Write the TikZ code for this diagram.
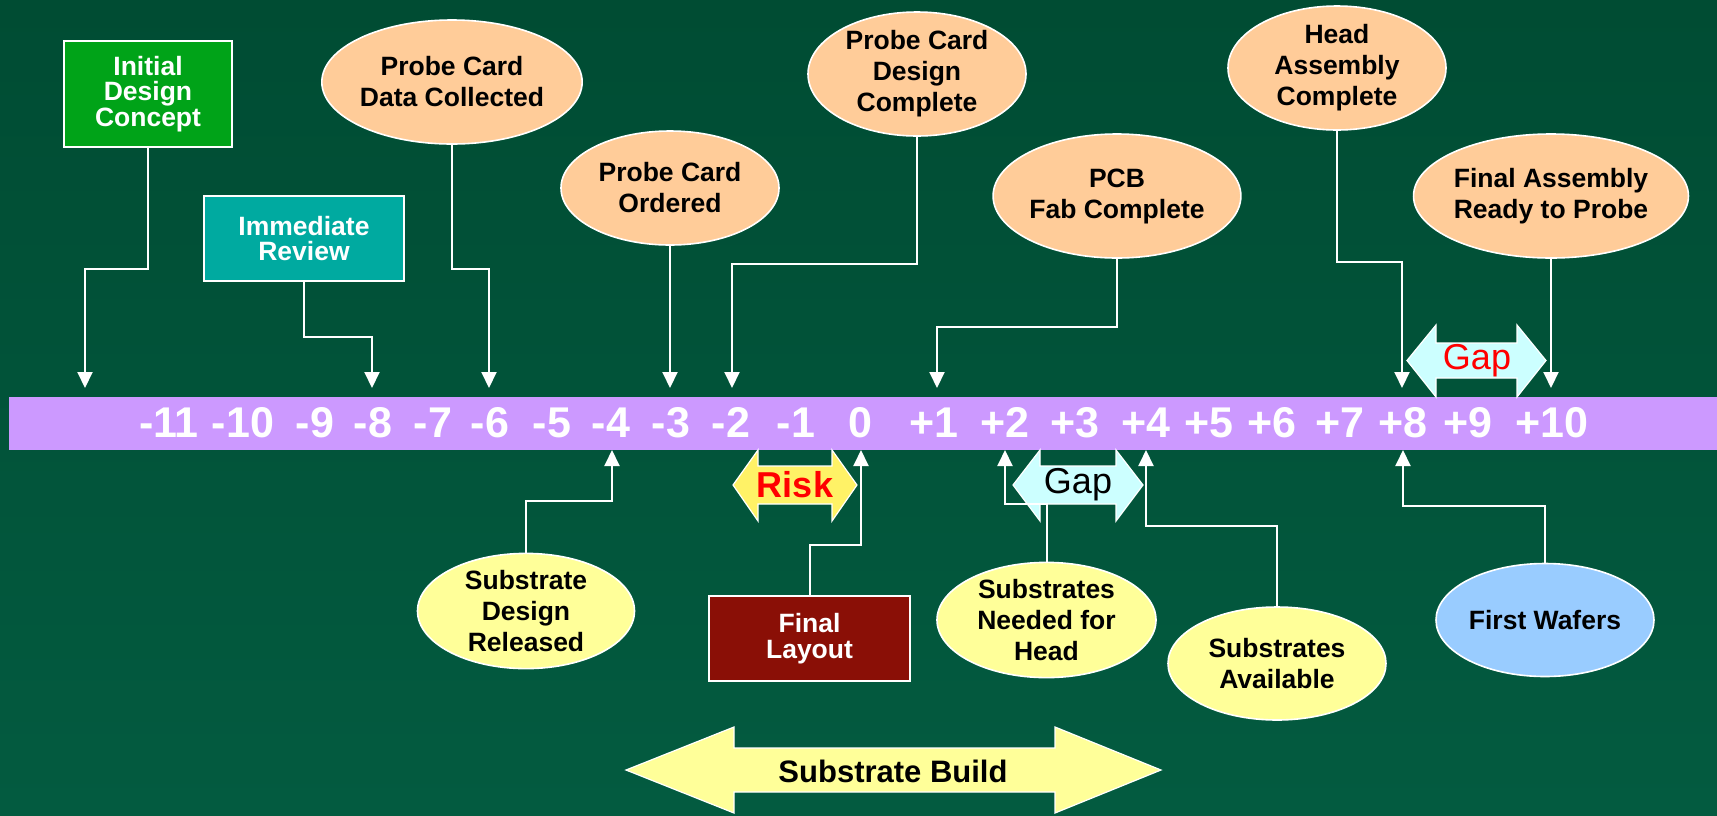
\documentclass[tikz,border=0pt]{standalone}
\usepackage{fontspec}
\setmainfont{Liberation Sans}
\usetikzlibrary{arrows.meta,shapes.geometric}

\definecolor{bgtop}{RGB}{0,76,51}
\definecolor{bgbot}{RGB}{3,91,64}
\definecolor{band}{HTML}{CC99FF}
\definecolor{peach}{HTML}{FFCC99}
\definecolor{paleyellow}{HTML}{FFFF99}
\definecolor{riskyellow}{HTML}{FFF266}
\definecolor{skyblue}{HTML}{99CCFF}
\definecolor{palecyan}{HTML}{CCFFFF}
\definecolor{boxgreen}{HTML}{00A318}
\definecolor{boxteal}{HTML}{00AAA0}
\definecolor{boxred}{HTML}{8A0F06}

\newcommand\lblfont{\fontsize{26.5}{31}\selectfont\bfseries}
\newcommand\boxfont{\fontsize{26.5}{25.5}\selectfont\bfseries}
\newcommand\numfont{\fontsize{43}{43}\selectfont\bfseries}

\tikzset{
  event/.style={ellipse, draw=white, line width=1.6pt, inner sep=0pt,
    align=center, text=black, font=\lblfont},
  probe/.style={event, fill=peach},
  substr/.style={event, fill=paleyellow},
  wafer/.style={event, fill=skyblue},
  stagebox/.style={rectangle, draw=white, line width=1.6pt, inner sep=0pt,
    align=center, text=white, font=\boxfont},
  conn/.style={draw=white, line width=2pt, -{Triangle[length=16pt,width=15pt]}},
  tick/.style={text=white, font=\numfont, anchor=base, inner sep=0pt},
  span/.style={draw=white, line width=1.2pt}
}

\begin{document}
\begin{tikzpicture}[x=1pt, y=-1pt]
  % background
  \shade[top color=bgtop, bottom color=bgbot] (0,0) rectangle (1717,815);
  \useasboundingbox (0,0) rectangle (1717,815);

  % time axis
  \fill[band] (9,397) rectangle (1717,450);
  \foreach \lab/\xx in {-11/169,-10/243,-9/315,-8/373,-7/433,-6/490,-5/552,
      -4/611,-3/671,-2/731,-1/796,0/860,+1/934,+2/1005,+3/1075,+4/1146,
      +5/1209,+6/1272,+7/1340,+8/1403,+9/1468,+10/1552}
    \node[tick] (n\lab) at (\xx,437) {\lab};

  % arrow targets above and below the axis
  \coordinate (t-12) at (85,388);
  \coordinate (t-8) at (372,388);
  \coordinate (t-6) at (489,388);
  \coordinate (t-3) at (670,388);
  \coordinate (t-2) at (732,388);
  \coordinate (t+1) at (937,388);
  \coordinate (t+8) at (1402,388);
  \coordinate (t+10) at (1551,388);
  \coordinate (b-4) at (612,450);
  \coordinate (b0) at (861,450);
  \coordinate (b+2) at (1005,450);
  \coordinate (b+4) at (1146,450);
  \coordinate (b+8) at (1403,450);

  % span arrows
  \draw[span, fill=palecyan] (1407,360.5) -- (1436,325) -- (1436,343) -- (1517,343)
    -- (1517,325) -- (1546,360.5) -- (1517,397) -- (1517,378) -- (1436,378)
    -- (1436,397) -- cycle;
  \node[text=red, font=\fontsize{36}{36}\selectfont] (gaptop) at (1477,361) {Gap};

  \draw[span, fill=riskyellow] (733,485) -- (758,450) -- (758,466) -- (832,466)
    -- (832,450) -- (857,485) -- (832,521) -- (832,504) -- (758,504)
    -- (758,521) -- cycle;
  \node[text=red, font=\fontsize{36}{36}\selectfont\bfseries] (risk) at (795,485) {Risk};

  \draw[span, fill=palecyan] (1013,485) -- (1040,450) -- (1040,466) -- (1116,466)
    -- (1116,450) -- (1143,485) -- (1116,521) -- (1116,504) -- (1040,504)
    -- (1040,521) -- cycle;
  \node[text=black, font=\fontsize{36}{36}\selectfont] (gapbot) at (1078,485) {Gap};

  \draw[span, fill=paleyellow] (626,770) -- (734,727) -- (734,748) -- (1055,748)
    -- (1055,727) -- (1161,770) -- (1055,813) -- (1055,792) -- (734,792)
    -- (734,813) -- cycle;
  \node[text=black, font=\fontsize{31}{31}\selectfont\bfseries] (build) at (893,771) {Substrate Build};

  % milestones above the axis
  \node[stagebox, fill=boxgreen, minimum width=168, minimum height=106]
    (idc) at (148,94) {Initial\\Design\\Concept};
  \node[stagebox, fill=boxteal, minimum width=200, minimum height=85]
    (imr) at (304,238.5) {Immediate\\Review};
  \node[probe, minimum width=218, minimum height=124]
    (pdc) at (452,82) {Probe Card\\Data Collected};
  \node[probe, minimum width=218, minimum height=114]
    (pco) at (670,188) {Probe Card\\Ordered};
  \node[probe, minimum width=218, minimum height=124]
    (pcdc) at (917,74) {Probe Card\\Design\\Complete};
  \node[probe, minimum width=220, minimum height=124]
    (pcb) at (1117,196) {PCB\\Fab Complete};
  \node[probe, minimum width=218, minimum height=124]
    (hac) at (1337,68) {Head\\Assembly\\Complete};
  \node[probe, minimum width=220, minimum height=124]
    (far) at (1551,196) {Final Assembly\\Ready to Probe};

  % milestones below the axis
  \node[substr, minimum width=217, minimum height=114]
    (sdr) at (526,611) {Substrate\\Design\\Released};
  \node[stagebox, fill=boxred, minimum width=201, minimum height=85]
    (fl) at (809.5,638.5) {Final\\Layout};
  \node[substr, minimum width=219, minimum height=114]
    (snh) at (1046.5,620) {Substrates\\Needed for\\Head};
  \node[substr, minimum width=218, minimum height=113]
    (sa) at (1277,663.5) {Substrates\\Available};
  \node[wafer, minimum width=218, minimum height=113]
    (fw) at (1545,620) {First Wafers};

  % connectors to the axis
  \draw[conn] (idc.south) -- ++(0,121) -| (t-12);
  \draw[conn] (imr.south) -- ++(0,55) -| (t-8);
  \draw[conn] (pdc.south) -- ++(0,124) -| (t-6);
  \draw[conn] (pco.south) -- (t-3);
  \draw[conn] (pcdc.south) -- ++(0,127) -| (t-2);
  \draw[conn] (pcb.south) -- ++(0,68) -| (t+1);
  \draw[conn] (hac.south) -- ++(0,131) -| (t+8);
  \draw[conn] (far.south) -- (t+10);

  \draw[conn] (sdr.north) -- ++(0,-52) -| (b-4);
  \draw[conn] (fl.north) -- ++(0,-50) -| (b0);
  \draw[conn] (snh.north) -- ++(0,-58) -| (b+2);
  \draw[conn] (sa.north) -- ++(0,-80) -| (b+4);
  \draw[conn] (fw.north) -- ++(0,-57) -| (b+8);
\end{tikzpicture}
\end{document}
